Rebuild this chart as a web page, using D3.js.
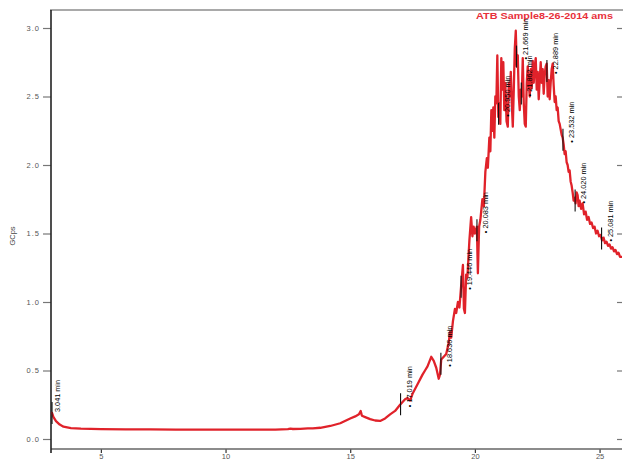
<!DOCTYPE html>
<html>
<head>
<meta charset="utf-8">
<script src="https://cdn.jsdelivr.net/npm/d3@7"></script>
<style>
  html, body { margin: 0; padding: 0; background: #fff; }
  svg { display: block; font-family: "Liberation Sans", Arial, sans-serif; }
</style>
</head>
<body>
<svg id="chart" width="623" height="460"></svg>
<script>
// Retention time (min) and detector response (GCps) of the trace
const times = [
  3.0, 3.041, 3.1, 3.2, 3.35, 3.5, 3.8, 4.2, 5, 6, 7, 8, 9, 10, 11, 12, 12.5, 12.6, 12.7, 13.0,
  13.3, 13.5, 13.8, 14.2, 14.6, 15.0, 15.2, 15.35, 15.42, 15.47, 15.6, 15.8, 16.0, 16.2, 16.4, 16.6, 16.8, 17.0,
  17.1, 17.2, 17.3, 17.4, 17.5, 17.7, 17.9, 18.0, 18.1, 18.25, 18.35, 18.45, 18.55, 18.6, 18.65, 18.75,
  18.85, 18.95, 19.0, 19.05, 19.12, 19.2, 19.25, 19.32, 19.38, 19.45, 19.52, 19.56, 19.6, 19.65, 19.7,
  19.78, 19.85, 19.9, 19.95, 20.0, 20.08, 20.12, 20.17, 20.22, 20.3, 20.36, 20.42, 20.48, 20.52, 20.58,
  20.62, 20.66, 20.7, 20.74, 20.78, 20.82, 20.86, 20.9, 20.94, 20.98, 21.02, 21.06, 21.1, 21.14, 21.18,
  21.22, 21.27, 21.32, 21.36, 21.4, 21.44, 21.48, 21.52, 21.56, 21.6, 21.64, 21.68, 21.72, 21.76, 21.8,
  21.84, 21.88, 21.92, 21.96, 22.0, 22.04, 22.08, 22.12, 22.16, 22.2, 22.24, 22.28, 22.32, 22.36, 22.4,
  22.44, 22.48, 22.52, 22.56, 22.6, 22.64, 22.68, 22.72, 22.76, 22.8, 22.84, 22.88, 22.92, 22.96, 23.0,
  23.04, 23.08, 23.12, 23.16, 23.2, 23.24, 23.28, 23.32, 23.36, 23.4, 23.44, 23.48, 23.52, 23.56, 23.6,
  23.64, 23.68, 23.72, 23.76, 23.8, 23.84, 23.88, 23.92, 23.96, 24.0, 24.04, 24.08, 24.12, 24.16, 24.2,
  24.26, 24.32, 24.38, 24.44, 24.5, 24.56, 24.62, 24.68, 24.74, 24.8, 24.86, 24.92, 24.98, 25.04, 25.1,
  25.16, 25.22, 25.28, 25.34, 25.4, 25.46, 25.52, 25.58, 25.64, 25.7, 25.76, 25.82, 25.9
];
const signal = [
  0.19, 0.19, 0.16, 0.13, 0.105, 0.09, 0.08, 0.075, 0.072, 0.07, 0.07, 0.069, 0.069, 0.068, 0.068, 0.069, 0.072, 0.076, 0.073, 0.074,
  0.078, 0.077, 0.082, 0.095, 0.115, 0.15, 0.165, 0.18, 0.205, 0.17, 0.16, 0.145, 0.135, 0.132, 0.15, 0.18, 0.205, 0.25,
  0.27, 0.29, 0.3, 0.28, 0.33, 0.4, 0.47, 0.5, 0.53, 0.6, 0.57, 0.52, 0.44, 0.47, 0.58, 0.6,
  0.62, 0.7, 0.78, 0.74, 0.86, 0.95, 0.92, 1.0, 0.96, 1.12, 1.27, 0.95, 0.92, 1.2, 1.18,
  1.45, 1.62, 1.48, 1.55, 1.5, 1.55, 1.21, 1.55, 1.6, 1.75, 1.7, 1.95, 2.05, 1.98, 2.2,
  2.1, 2.4, 2.25, 2.42, 2.2, 2.5, 2.45, 2.8, 2.35, 2.45, 2.3, 2.78, 2.55, 2.75, 2.4,
  2.6, 2.32, 2.28, 2.6, 2.5, 2.68, 2.45, 2.28, 2.55, 2.85, 2.98, 2.72, 2.8, 2.5, 2.4,
  2.55, 2.5, 2.78, 2.45, 2.3, 2.28, 2.6, 2.72, 2.6, 2.5, 2.7, 2.56, 2.76, 2.6, 2.72,
  2.78, 2.55, 2.68, 2.48, 2.62, 2.75, 2.6, 2.7, 2.52, 2.66, 2.72, 2.74, 2.5, 2.62, 2.48,
  2.6, 2.7, 2.74, 2.58, 2.46, 2.5, 2.4, 2.42, 2.32, 2.3, 2.26, 2.22, 2.2, 2.15, 2.08,
  2.1, 2.02, 2.0, 1.95, 1.96, 1.88, 1.85, 1.8, 1.74, 1.76, 1.72, 1.8, 1.78, 1.7, 1.74,
  1.68, 1.72, 1.64, 1.66, 1.6, 1.62, 1.57, 1.58, 1.54, 1.55, 1.5, 1.52, 1.48, 1.49, 1.45,
  1.47, 1.43, 1.44, 1.41, 1.42, 1.39, 1.4, 1.37, 1.38, 1.35, 1.36, 1.33, 1.33
];

// Peak annotations (retention time + label)
const peakTimes  = [3.041, 17.019, 18.636, 19.446, 20.083, 20.95, 21.669, 21.862, 22.889, 23.532, 24.02, 25.081];
const peakLabels = ["3.041 min", "17.019 min", "18.636 min", "19.446 min", "20.083 min", "20.950 min",
                    "21.669 min", "21.862 min", "22.889 min", "23.532 min", "24.020 min", "25.081 min"];

const yTicks = [0.0, 0.5, 1.0, 1.5, 2.0, 2.5, 3.0];
const xTicks = [5, 10, 15, 20, 25];
const title = "ATB Sample8-26-2014 ams";
const yTitle = "GCps";

const svg = d3.select("#chart");
const plotLeft = 51, plotRight = 622, plotTop = 10, plotBottom = 449;

const x = d3.scaleLinear().domain([3, 25.9]).range([plotLeft, plotRight]);
const y = d3.scaleLinear().domain([0, 3]).range([439, 28]);

// clip for the trace
svg.append("defs").append("clipPath").attr("id", "plot")
  .append("rect").attr("x", plotLeft).attr("y", plotTop)
  .attr("width", plotRight - plotLeft + 2).attr("height", plotBottom - plotTop);

// top frame line
svg.append("line").attr("x1", 50).attr("x2", 623).attr("y1", plotTop).attr("y2", plotTop)
  .attr("stroke", "#a9a9a9").attr("stroke-width", 2);

// y axis (left)
const yAxis = d3.axisLeft(y).tickValues(yTicks).tickFormat(d3.format(".1f")).tickSize(8).tickPadding(3);
const gy = svg.append("g").attr("transform", `translate(${plotLeft},0)`).call(yAxis);
gy.select(".domain").remove();
gy.selectAll(".tick line").attr("stroke", "#777").attr("stroke-width", 1.2);
gy.selectAll(".tick text").attr("fill", "#555").attr("font-size", 7.5).attr("letter-spacing", 1);

// right-side tick marks
const gr = svg.append("g").attr("transform", `translate(${plotRight},0)`)
  .call(d3.axisRight(y).tickValues(yTicks).tickSize(-5).tickFormat(""));
gr.select(".domain").remove();
gr.selectAll(".tick line").attr("stroke", "#777").attr("stroke-width", 1.2);

// x axis (bottom)
const xAxis = d3.axisBottom(x).tickValues(xTicks).tickSize(4).tickPadding(1);
const gx = svg.append("g").attr("transform", `translate(0,${plotBottom})`).call(xAxis);
gx.select(".domain").remove();
gx.selectAll(".tick line").attr("stroke", "#333").attr("stroke-width", 1.2);
gx.selectAll(".tick text").attr("fill", "#555").attr("font-size", 7.5);

svg.append("line").attr("x1", plotLeft).attr("x2", plotRight).attr("y1", plotBottom).attr("y2", plotBottom)
  .attr("stroke", "#666").attr("stroke-width", 1.5);
svg.append("line").attr("x1", plotLeft).attr("x2", plotLeft).attr("y1", plotTop).attr("y2", 453)
  .attr("stroke", "#222").attr("stroke-width", 1.6);

// y axis title
svg.append("text").attr("transform", "translate(15,236) rotate(-90)")
  .attr("text-anchor", "middle").attr("font-size", 7.5).attr("fill", "#444").text(yTitle);

// trace
const pts = times.map((t, i) => [t, signal[i]]);
svg.append("path").datum(pts)
  .attr("clip-path", "url(#plot)")
  .attr("fill", "none").attr("stroke", "#e0222a").attr("stroke-width", 2.3)
  .attr("stroke-linejoin", "round")
  .attr("d", d3.line().x(d => x(d[0])).y(d => y(d[1])));

// title
svg.append("text").attr("x", 476).attr("y", 19)
  .attr("font-size", 9.5).attr("font-weight", "bold").attr("fill", "#e8303a")
  .attr("textLength", 137).attr("lengthAdjust", "spacingAndGlyphs").text(title);

// peak markers and labels
const valueAt = t => {
  const i = d3.bisectLeft(times, t);
  if (i <= 0) return signal[0];
  if (i >= times.length) return signal[signal.length - 1];
  const f = (t - times[i - 1]) / (times[i] - times[i - 1]);
  return signal[i - 1] + f * (signal[i] - signal[i - 1]);
};
const ga = svg.append("g");
peakTimes.forEach((t, i) => {
  const px = x(t), py = y(valueAt(t));
  ga.append("line").attr("x1", px).attr("x2", px).attr("y1", py - 11).attr("y2", py + 11)
    .attr("stroke", "#111").attr("stroke-width", 1.1);
  const first = i === 0;
  const ax = first ? px + 8 : px + 11;
  const ay = first ? py - 1 : py + 3;
  ga.append("text").attr("transform", `translate(${ax},${ay}) rotate(-90)`)
    .attr("font-size", 8).attr("fill", "#000")
    .attr("textLength", first ? 32 : 41).attr("lengthAdjust", "spacingAndGlyphs")
    .text(first ? peakLabels[i] : "\u2022 " + peakLabels[i]);
});
</script>
</body>
</html>
